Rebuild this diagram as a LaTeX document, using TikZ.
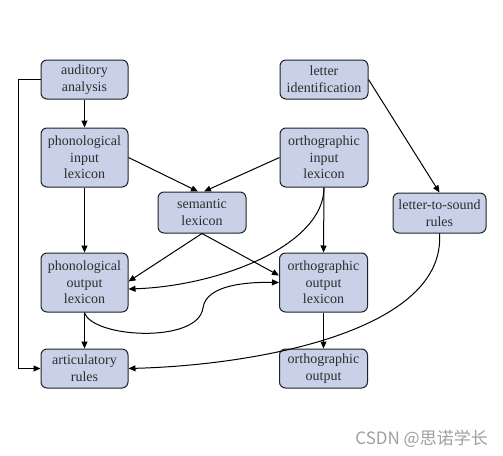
\documentclass[tikz,border=0pt]{standalone}
\usepackage{fontspec}
\setmainfont{Liberation Serif}
\newfontfamily\boxfont{Liberation Serif}
\newfontfamily\cjkfont{Noto Sans CJK SC}
\usetikzlibrary{arrows.meta,calc}
\definecolor{boxfill}{RGB}{201,209,233}
\definecolor{boxdraw}{RGB}{34,34,34}
\definecolor{txt}{RGB}{45,45,45}
\definecolor{wm}{RGB}{160,160,160}
\begin{document}
\begin{tikzpicture}[x=1pt,y=-1pt,
  box/.style={draw=boxdraw,fill=boxfill,rounded corners=6pt,line width=1pt,
    align=center,text=txt,inner sep=0pt,minimum width=87pt,
    font=\boxfont\fontsize{14}{16.6}\selectfont},
  small/.style={box,minimum height=39pt},
  tall/.style={box,minimum height=59pt},
  conn/.style={line width=1pt,-{Triangle[length=7pt,width=6pt]}}]
\useasboundingbox (0,0) rectangle (503,455);
\fill[white] (0,0) rectangle (503,455);
% nodes
\node[small] (aud) at (84.5,79.5) {auditory\\analysis};
\node[tall] (phin) at (84.5,157.5) {phonological\\input\\lexicon};
\node[box,minimum width=88pt,minimum height=41pt] (sem) at (202,212.5) {semantic\\lexicon};
\node[small,minimum width=88pt] (let) at (324,79.5) {letter\\identification};
\node[tall,minimum width=88pt] (orin) at (324,157.5) {orthographic\\input\\lexicon};
\node[box,minimum width=93pt,minimum height=40pt] (lts) at (439.5,213) {letter-to-sound\\rules};
\node[tall] (phout) at (84.5,282.5) {phonological\\output\\lexicon};
\node[tall,minimum width=88pt] (orout) at (323.5,282.5) {orthographic\\output\\lexicon};
\node[small] (art) at (84.5,368.5) {articulatory\\rules};
\node[small,minimum width=88pt] (oout) at (323.5,368.5) {orthographic\\output};
\coordinate (lt) at (18,79.5);
\coordinate (lb) at (18,368.5);
% connectors
\draw[conn] (aud.south) -- (phin.north);
\draw[conn] (phin.east) -- ($(sem.north)+(-4,0)$);
\draw[conn] (orin.west) -- ($(sem.north)+(2,0)$);
\draw[conn] (phin.south) -- (phout.north);
\draw[conn] (orin.south) -- (orout.north);
\draw[conn] (sem.south) -- ($(phout.east)+(0,-1)$);
\draw[conn] (sem.south) -- ($(orout.west)+(0,-7)$);
\draw[conn] (orin.south) .. controls (324,245) and (220,286) .. ($(phout.east)+(0,6.5)$);
\draw[conn] (phout.south) .. controls (92,338) and (198,344) .. (203,308)
  .. controls (206,284) and (250,282) .. (orout.west);
\draw[conn] (phout.south) -- (art.north);
\draw[conn] (orout.south) -- (oout.north);
\draw[conn] (let.east) -- (lts.north);
\draw[conn] (lts.south) .. controls (446,330) and (260,365) .. (art.east);
\draw[conn] (aud.west) -- (lt) -- (lb) -- (art.west);
% watermark
\node[anchor=east,text=wm,font=\cjkfont\fontsize{17}{19}\selectfont,inner sep=0pt] (wmk) at (488,439) {CSDN @思诺学长};
\end{tikzpicture}
\end{document}
